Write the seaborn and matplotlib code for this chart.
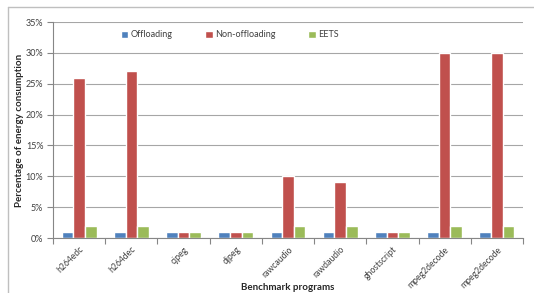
import matplotlib
matplotlib.use("Agg")
import matplotlib.pyplot as plt
import seaborn as sns
import pandas as pd
from matplotlib.lines import Line2D
from matplotlib.ticker import PercentFormatter, FixedLocator

categories = ["h264edc", "h264dec", "cjpeg", "djpeg", "rawcaudio", "rawdaudio",
              "ghostscript", "mpeg2decode", "mpeg2decode"]
series_names = ["Offloading", "Non-offloading", "EETS"]
offloading = [1, 1, 1, 1, 1, 1, 1, 1, 1]
non_offloading = [26, 27, 1, 1, 10, 9, 1, 30, 30]
eets = [2, 2, 1, 1, 2, 2, 1, 2, 2]
colors = ["#4F81BD", "#C0504D", "#9BBB59"]

rows = []
for i, c in enumerate(categories):
    for name, vals in zip(series_names, [offloading, non_offloading, eets]):
        rows.append({"idx": i, "program": c, "series": name, "value": vals[i]})
df = pd.DataFrame(rows)

sns.set_theme(style="white")
plt.rcParams['font.family'] = ['Lato', 'DejaVu Sans']

fig = plt.figure(figsize=(5.34, 2.93), dpi=100)
W, H = 534, 293
ax = fig.add_axes([53 / W, 1 - 238 / H, (523 - 53) / W, (238 - 22) / H])

sns.barplot(data=df, x="idx", y="value", hue="series", hue_order=series_names,
            palette=colors, width=0.67, gap=0, ax=ax, saturation=1, errorbar=None)

ax.set_ylim(0, 35)
ax.set_xlim(-0.5, len(categories) - 0.5)
ax.yaxis.set_major_locator(FixedLocator([0, 5, 10, 15, 20, 25, 30, 35]))
ax.yaxis.set_major_formatter(PercentFormatter(decimals=0))
ax.grid(axis="y", color="#A6A6A6", linewidth=0.8)
ax.set_axisbelow(True)
for s in ["top", "right"]:
    ax.spines[s].set_visible(False)
ax.spines["left"].set_color("#868686")
ax.spines["bottom"].set_color("#868686")
ax.spines["left"].set_linewidth(0.8)
ax.spines["bottom"].set_linewidth(0.8)

ax.set_xticks(range(len(categories)))
ax.set_xticklabels(categories, rotation=45, ha="right", rotation_mode="anchor",
                   fontsize=6.2, color="#404040")
ax.tick_params(axis="x", length=0, pad=5)
ax.set_xticks([i - 0.5 for i in range(len(categories) + 1)], minor=True)
ax.tick_params(axis="x", which="minor", length=4, color="#868686", width=0.8, direction="out", bottom=True)
ax.tick_params(axis="y", labelsize=6.5, labelcolor="#404040", length=4, color="#868686",
               width=0.8, direction="out", left=True, pad=3)

ax.set_xlabel("Benchmark programs", fontsize=7, fontweight="bold", va="center")
ax.xaxis.set_label_coords(0.5, (238 - 287) / 216)
ax.set_ylabel("Percentage of energy consumption", fontsize=7, fontweight="bold", va="center")
ax.yaxis.set_label_coords((20 - 53) / 470, 0.5)

leg = ax.legend(loc="center", bbox_to_anchor=((230 - 53) / 470, (238 - 35) / 216), ncol=3,
                frameon=False, fontsize=6.5, handlelength=0.8, handleheight=0.8,
                handletextpad=0.3, columnspacing=3.6)
for t in leg.get_texts():
    t.set_color("#404040")

fig.lines.append(Line2D([8 / W, 1.0], [1 - 7 / H, 1 - 7 / H], transform=fig.transFigure,
                        color="#BFBFBF", linewidth=1.0))
fig.lines.append(Line2D([8 / W, 8 / W], [0.0, 1 - 7 / H], transform=fig.transFigure,
                        color="#BFBFBF", linewidth=1.0))

fig.savefig("out.png", dpi=100)
